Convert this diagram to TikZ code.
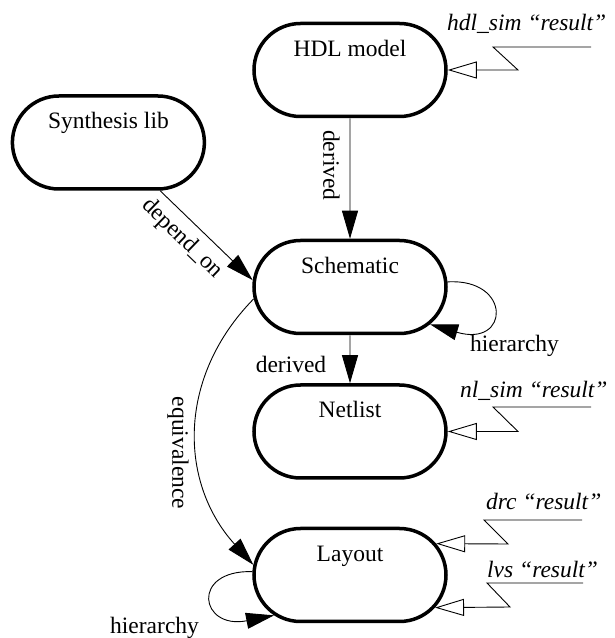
\documentclass[tikz,border=0pt]{standalone}
\usepackage{fontspec}
\setmainfont{Liberation Serif}
\usetikzlibrary{shapes.misc,arrows.meta,calc}
\tikzset{
  stadium/.style={rounded rectangle, draw, line width=3.5pt, minimum width=192pt,
    minimum height=93pt, inner sep=0pt, text height=16pt, text depth=43pt},
  conn/.style={line width=0.9pt, -{Triangle[length=28pt,width=16pt]}},
  resarrow/.style={line width=0.9pt, -{Triangle[open,length=29pt,width=17pt]}},
  res/.style={font=\fontsize{23.5}{28}\selectfont\itshape, inner sep=0pt},
  elabel/.style={inner sep=0pt}
}
\begin{document}
\begin{tikzpicture}[x=1pt,y=1pt,font=\fontsize{23.5}{28}\selectfont]
\useasboundingbox (0,0) rectangle (615,638);
% nodes
\node[stadium] (hdl) at (350,568) {HDL model};
\node[stadium] (syn) at (108.4,495.5) {Synthesis lib};
\node[stadium] (sch) at (350,351) {Schematic};
\node[stadium] (net) at (350,206.5) {Netlist};
\node[stadium] (lay) at (350,63) {Layout};
% connectors
\draw[conn] (hdl) -- (sch)
  node[pos=0.39, rotate=-90, anchor=north, inner sep=10pt] (lbder1) {derived};
\draw[conn] (syn.-43) -- (sch.176)
  node[pos=0.38, sloped, anchor=north, inner sep=8pt] (lbdep) {depend\_on};
\draw[conn] (sch) -- (net);
\node[elabel, anchor=base] (lbder2) at (291,265) {derived};
\draw[conn] (sch.187) .. controls (176.5,260.4) and (179.1,155) .. (lay.174);
\node[elabel, rotate=-90] (lbeq) at (178,185) {equivalence};
\draw[conn] (sch.3) .. controls (512,360) and (510,290) .. (sch.-25);
\node[elabel, anchor=base west] (lbh1) at (470,286) {hierarchy};
\draw[conn] (lay.178) .. controls (190,68) and (200,8) .. (lay.208);
\node[elabel, anchor=base west] (lbh2) at (110,5) {hierarchy};
% result annotations
\node[res, anchor=base west] (hdlr) at (447,607) {hdl\_sim “result”};
\coordinate (h1) at (591,591);
\draw[resarrow] (h1) -- (493,591) -- (518,568) -- (hdl.east);
\node[res, anchor=base west] (netr) at (460,240) {nl\_sim “result”};
\coordinate (n1) at (591,231);
\draw[resarrow] (n1) -- (493,231) -- (518,206.5) -- (net.east);
\node[res, anchor=base west] (drcr) at (486,128) {drc “result”};
\coordinate (d1) at (582,118);
\draw[resarrow] (d1) -- (484,118) -- (508,94) -- (lay.20);
\node[res, anchor=base west] (lvsr) at (487,60) {lvs “result”};
\coordinate (l1) at (583,55);
\draw[resarrow] (l1) -- (487,55) -- (510,31) -- (lay.-21);
\end{tikzpicture}
\end{document}
